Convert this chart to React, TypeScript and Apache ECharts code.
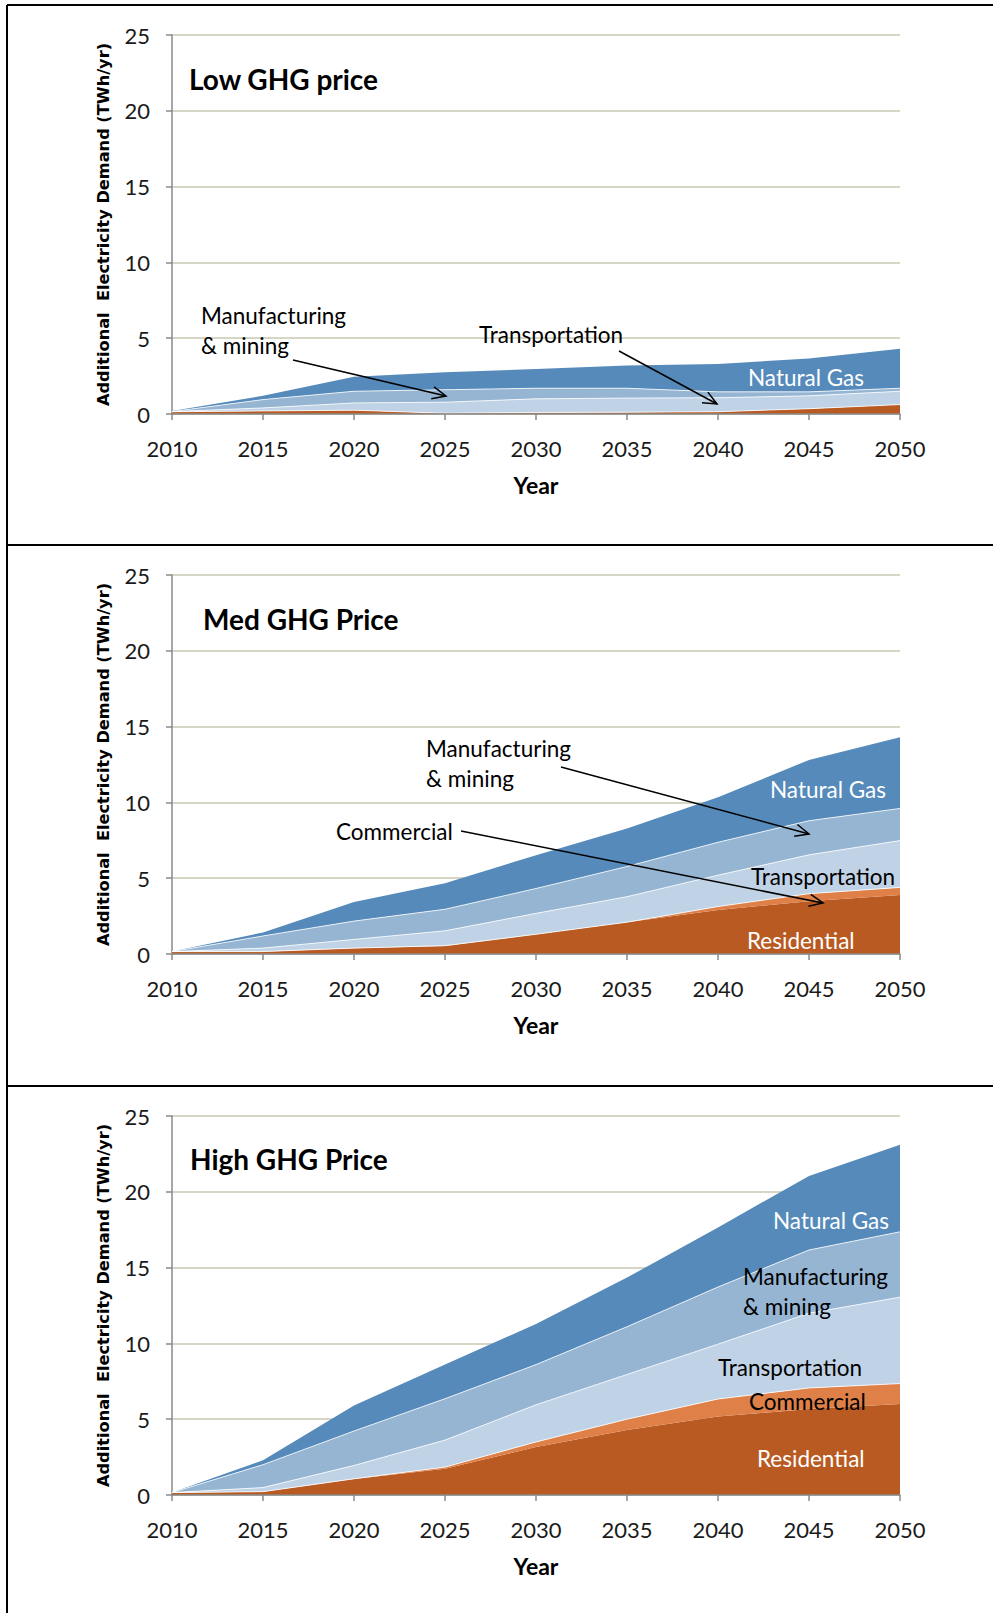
import React, { useEffect, useRef } from "react";
import * as echarts from "echarts";

const years = ["2010", "2015", "2020", "2025", "2030", "2035", "2040", "2045", "2050"];
const yTicks = { min: 0, max: 25, interval: 5 };

const panelTitles = ["Low GHG price", "Med GHG Price", "High GHG Price"];
const seriesNames = ["Residential", "Commercial", "Transportation", "Manufacturing & mining", "Natural Gas"];
const seriesColors = ["#B85A22", "#DE8048", "#C0D3E6", "#95B5D3", "#558ABA"];

// Low GHG price
const lowResidential = [0.15, 0.2, 0.25, 0.05, 0.1, 0.12, 0.15, 0.35, 0.62];
const lowCommercial = [0, 0, 0, 0, 0, 0, 0, 0, 0];
const lowTransportation = [0.01, 0.2, 0.48, 0.73, 0.9, 0.93, 0.92, 0.85, 0.88];
const lowManufacturing = [0, 0.55, 0.77, 0.82, 0.7, 0.65, 0.39, 0.26, 0.2];
const lowNaturalGas = [0.04, 0.25, 0.95, 1.15, 1.27, 1.5, 1.84, 2.2, 2.6];

// Med GHG price
const medResidential = [0.15, 0.15, 0.38, 0.53, 1.3, 2.1, 2.9, 3.48, 3.89];
const medCommercial = [0.01, 0.01, 0.01, 0.02, 0.0, 0.0, 0.23, 0.5, 0.5];
const medTransportation = [0, 0.23, 0.57, 0.98, 1.38, 1.68, 2.07, 2.56, 3.09];
const medManufacturing = [0, 0.8, 1.21, 1.42, 1.64, 1.99, 2.17, 2.25, 2.12];
const medNaturalGas = [0, 0.23, 1.26, 1.72, 2.2, 2.51, 2.97, 4.01, 4.7];

// High GHG price
const highResidential = [0.15, 0.22, 1.05, 1.73, 3.17, 4.28, 5.17, 5.68, 6.0];
const highCommercial = [0.01, 0, 0.02, 0.11, 0.33, 0.72, 1.16, 1.38, 1.35];
const highTransportation = [0, 0.27, 0.88, 1.78, 2.45, 2.95, 3.62, 4.93, 5.7];
const highManufacturing = [0, 1.51, 2.27, 2.73, 2.65, 3.15, 3.77, 4.17, 4.31];
const highNaturalGas = [0, 0.29, 1.68, 2.25, 2.68, 3.24, 3.93, 4.89, 5.74];

const panels = [
  [lowResidential, lowCommercial, lowTransportation, lowManufacturing, lowNaturalGas],
  [medResidential, medCommercial, medTransportation, medManufacturing, medNaturalGas],
  [highResidential, highCommercial, highTransportation, highManufacturing, highNaturalGas],
];

const W = 993;
const H = 1613;
const gridTops = [35, 575, 1116];
const gridHeight = 379;
const gridLeft = 172;
const gridRight = 93;

const LABEL_FONT = "Lato";
const ANNOT_SIZE = 22.5;

function arrow(x1: number, y1: number, x2: number, y2: number) {
  const a = Math.atan2(y2 - y1, x2 - x1);
  const L = 15;
  const w = 0.42;
  const p1 = [x2 - L * Math.cos(a - w), y2 - L * Math.sin(a - w)];
  const p2 = [x2 - L * Math.cos(a + w), y2 - L * Math.sin(a + w)];
  return [
    { type: "line", z: 100, shape: { x1, y1, x2, y2 }, style: { stroke: "#000", lineWidth: 1.5 } },
    { type: "polyline", z: 100, shape: { points: [p1, [x2, y2], p2] }, style: { stroke: "#000", lineWidth: 1.5, fill: null } },
  ];
}

function label(text: string, x: number, y: number, color: string, size = ANNOT_SIZE, weight = "normal") {
  return {
    type: "text",
    z: 100,
    x,
    y,
    style: {
      text,
      fill: color,
      fontFamily: LABEL_FONT,
      fontSize: size,
      fontWeight: weight,
      verticalAlign: "middle",
      align: "left",
    },
  };
}

export default function App() {
  const ref = useRef<HTMLDivElement>(null);

  useEffect(() => {
    document.body.style.margin = "0";
    if (!ref.current) return;
    const chart = echarts.init(ref.current, null, { renderer: "svg" });

    const grids = gridTops.map((t) => ({ left: gridLeft, right: gridRight, top: t, height: gridHeight }));

    const xAxes = gridTops.map((_, i) => ({
      type: "category",
      gridIndex: i,
      data: years,
      boundaryGap: false,
      name: "Year",
      nameLocation: "middle",
      nameGap: 59,
      nameTextStyle: { fontFamily: LABEL_FONT, fontWeight: "bold", fontSize: 23, color: "#000" },
      axisLine: { show: true, lineStyle: { color: "#8A8A8A", width: 1.5 } },
      axisTick: { show: true, inside: false, length: 6, lineStyle: { color: "#8A8A8A", width: 1.5 } },
      axisLabel: { margin: 23, fontFamily: LABEL_FONT, fontSize: 22, color: "#1A1A1A" },
      splitLine: { show: false },
      z: 10,
    }));

    const yAxes = gridTops.map((_, i) => ({
      type: "value",
      gridIndex: i,
      min: yTicks.min,
      max: yTicks.max,
      interval: yTicks.interval,
      name: "Additional  Electricity Demand (TWh/yr)",
      nameLocation: "middle",
      nameRotate: 90,
      nameGap: 61,
      nameTextStyle: { fontFamily: "DejaVu Sans", fontWeight: "bold", fontSize: 16.2, color: "#000" },
      axisLine: { show: true, lineStyle: { color: "#8A8A8A", width: 1.5 } },
      axisTick: { show: true, inside: false, length: 6, lineStyle: { color: "#8A8A8A", width: 1.5 } },
      axisLabel: { margin: 22, fontFamily: LABEL_FONT, fontSize: 22, color: "#1A1A1A" },
      splitLine: { show: true, lineStyle: { color: "#D5D6C4", width: 2 } },
    }));

    const series: any[] = [];
    panels.forEach((panel, pi) => {
      panel.forEach((vals, si) => {
        const edge = si >= 1 && si <= 3;
        series.push({
          type: "line",
          name: seriesNames[si],
          xAxisIndex: pi,
          yAxisIndex: pi,
          stack: "p" + pi,
          data: vals,
          symbol: "none",
          lineStyle: edge ? { width: 1, color: "rgba(255,255,255,0.8)" } : { width: 0 },
          areaStyle: { color: seriesColors[si], opacity: 1 },
          itemStyle: { color: seriesColors[si] },
          z: 2,
        });
      });
    });

    const graphic: any[] = [
      // frame
      { type: "line", z: 100, shape: { x1: 7, y1: 5, x2: W, y2: 5 }, style: { stroke: "#000", lineWidth: 2 } },
      { type: "line", z: 100, shape: { x1: 7, y1: 5, x2: 7, y2: H }, style: { stroke: "#000", lineWidth: 2 } },
      { type: "line", z: 100, shape: { x1: 7, y1: 545, x2: W, y2: 545 }, style: { stroke: "#000", lineWidth: 2 } },
      { type: "line", z: 100, shape: { x1: 7, y1: 1086, x2: W, y2: 1086 }, style: { stroke: "#000", lineWidth: 2 } },
      // titles
      label(panelTitles[0], 189, 79, "#000", 28, "bold"),
      label(panelTitles[1], 203, 619, "#000", 28, "bold"),
      label(panelTitles[2], 190, 1159, "#000", 28, "bold"),
      // panel 1 annotations
      label("Manufacturing", 201, 315, "#000"),
      label("& mining", 201, 345, "#000"),
      ...arrow(293, 360, 446, 396),
      label("Transportation", 479, 334, "#000"),
      ...arrow(619, 351, 717, 404),
      label("Natural Gas", 748, 377, "#FFFFFF"),
      // panel 2 annotations
      label("Manufacturing", 426, 748, "#000"),
      label("& mining", 426, 778, "#000"),
      ...arrow(561, 767, 809, 834),
      label("Commercial", 336, 831, "#000"),
      ...arrow(461, 831, 823, 903),
      label("Natural Gas", 770, 789, "#FFFFFF"),
      label("Transportation", 751, 876, "#000"),
      label("Residential", 747, 940, "#FFFFFF"),
      // panel 3 annotations
      label("Natural Gas", 773, 1220, "#FFFFFF"),
      label("Manufacturing", 743, 1276, "#000"),
      label("& mining", 743, 1306, "#000"),
      label("Transportation", 718, 1367, "#000"),
      label("Commercial", 749, 1401, "#000"),
      label("Residential", 757, 1458, "#FFFFFF"),
    ];

    chart.setOption({
      animation: false,
      backgroundColor: "#FFFFFF",
      grid: grids,
      xAxis: xAxes,
      yAxis: yAxes,
      series,
      graphic,
    });

    return () => {
      chart.dispose();
    };
  }, []);

  return <div ref={ref} style={{ width: W, height: H }} />;
}
